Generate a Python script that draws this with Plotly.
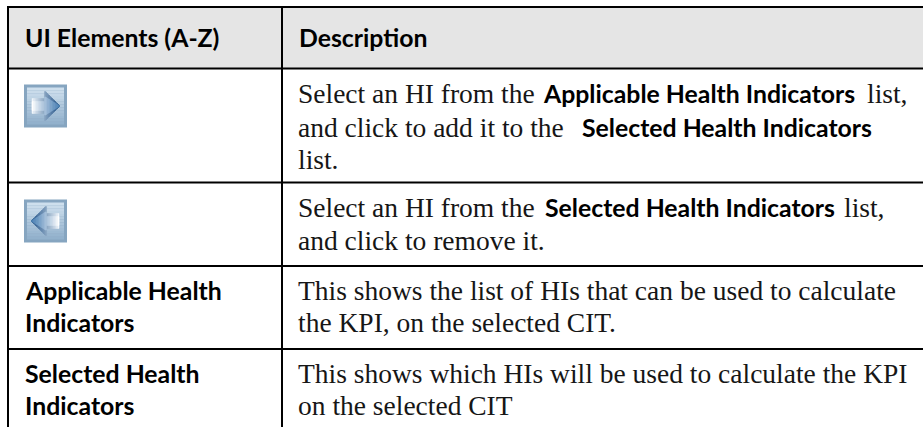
import plotly.graph_objects as go

W, H = 923, 427
SANS = "Lato"
SERIF = "Liberation Serif"
SANS_SIZE = 24.8
SERIF_SIZE = 27.5

headers = ["UI Elements (A-Z)", "Description"]
element_labels = [["Applicable Health", "Indicators"], ["Selected Health", "Indicators"]]
# (text, bold) runs, per line
desc_lines = [
    [("Select an HI from the", False), ("Applicable Health Indicators", True), ("list,", False)],
    [("and click to add it to the", False), ("Selected Health Indicators", True)],
    [("list.", False)],
    [("Select an HI from the", False), ("Selected Health Indicators", True), ("list,", False)],
    [("and click to remove it.", False)],
    [("This shows the list of HIs that can be used to calculate", False)],
    [("the KPI, on the selected CIT.", False)],
    [("This shows which HIs will be used to calculate the KPI", False)],
    [("on the selected CIT", False)],
]

# layout
X_LEFT, X_MID, X_RIGHT = 8, 282, 923
Y_TOP, Y_HEAD, Y_R1, Y_R2, Y_R3, Y_BOT = 7, 68.5, 182.5, 266, 349, 427
desc_y = [93, 127, 159, 207, 240, 290, 322, 373, 405]
run_x = [[297, 542, 866], [297, 581], [297], [297, 544, 843], [297], [297], [297], [297], [297]]
label_y = [[290, 322], [373, 405]]

fig = go.Figure()
shapes = []
annotations = []


def rect(x0, y0, x1, y1, color):
    shapes.append(dict(type="rect", xref="x", yref="y", x0=x0, y0=y0, x1=x1, y1=y1,
                       fillcolor=color, line=dict(width=0), layer="below"))


def line(x0, y0, x1, y1):
    shapes.append(dict(type="line", xref="x", yref="y", x0=x0, y0=y0, x1=x1, y1=y1,
                       line=dict(color="#000000", width=2)))


def text(x, y, s, bold):
    annotations.append(dict(x=x, y=y, xref="x", yref="y", xanchor="left", yanchor="middle",
                            showarrow=False, borderpad=0, align="left",
                            text=f"<b>{s}</b>" if bold else s,
                            font=dict(family=SANS if bold else SERIF,
                                      size=SANS_SIZE if bold else SERIF_SIZE,
                                      color="#000000" if bold else "#161616")))


rect(X_LEFT, Y_TOP, X_RIGHT, Y_HEAD, "#e5e5e5")
for y in (Y_TOP, Y_HEAD, Y_R1, Y_R2, Y_R3):
    line(X_LEFT - 1, y, X_RIGHT, y)
line(X_LEFT, Y_TOP - 1, X_LEFT, Y_BOT)
line(X_MID, Y_TOP, X_MID, Y_BOT)


def mix(c1, c2, t):
    return "#%02x%02x%02x" % tuple(round(a + (b - a) * t) for a, b in zip(c1, c2))


def icon(x0, y0, direction):
    s = 43
    rect(x0, y0, x0 + s, y0 + s, "#86a5c0")
    bands = 13
    for i in range(bands):
        t = i / (bands - 1)
        rect(x0 + 3, y0 + 3 + i * 37 / bands, x0 + s - 3, y0 + 3 + (i + 1) * 37 / bands,
             mix((206, 223, 237), (146, 177, 204), t))

    def half(u, body, head):
        return body if u < 0.48 else head * (1 - (u - 0.48) / 0.52)

    cy = y0 + s / 2
    n = 18
    layers = [
        (7.5, 14.5, (240, 246, 251), (20, 72, 128)),
        (4.5, 9.0, (255, 255, 255), (70, 125, 178)),
    ]
    for body, head, c0, c1 in layers:
        for i in range(n):
            u0, u1 = i / n, (i + 1) / n
            col = mix(c0, c1, u0 ** 0.9)
            a0, a1 = 8 + u0 * 28, 8 + u1 * 28
            h0, h1 = half(u0, body, head), half(u1, body, head)
            if u0 < 0.48 <= u1:
                h0, h1 = head, head
            if direction > 0:
                xa, xb = x0 + a0, x0 + a1
            else:
                xa, xb = x0 + s - a0, x0 + s - a1
            path = f"M{xa},{cy-h0} L{xb},{cy-h1} L{xb},{cy+h1} L{xa},{cy+h0} Z"
            shapes.append(dict(type="path", path=path, xref="x", yref="y", fillcolor=col,
                               line=dict(width=0.5, color=col), layer="below"))


icon(24, 84.5, 1)
icon(24, 199.5, -1)

text(24, 37, headers[0], True)
text(298, 37, headers[1], True)
for lines, ys in zip(element_labels, label_y):
    for s, y in zip(lines, ys):
        text(24, y, s, True)
for runs, xs, y in zip(desc_lines, run_x, desc_y):
    for (s, b), x in zip(runs, xs):
        text(x, y, s, b)

# invisible trace anchors the axes
fig.add_trace(go.Scatter(x=[0, W], y=[0, H], mode="markers", marker=dict(opacity=0),
                         hoverinfo="skip", showlegend=False))
fig.update_layout(
    width=W, height=H, margin=dict(l=0, r=0, t=0, b=0), paper_bgcolor="#ffffff", plot_bgcolor="#ffffff",
    shapes=shapes, annotations=annotations,
    xaxis=dict(range=[0, W], visible=False, fixedrange=True),
    yaxis=dict(range=[H, 0], visible=False, fixedrange=True),
)
fig.write_html("out.html", config=dict(displayModeBar=False),
               post_script="document.body.style.margin='0';document.documentElement.style.overflow='hidden';")
